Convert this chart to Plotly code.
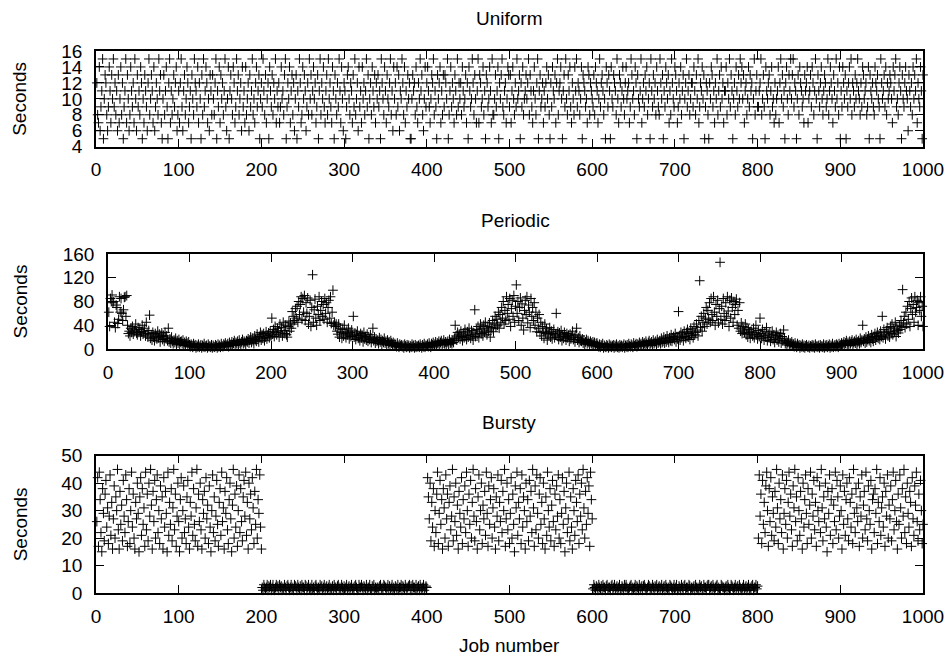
import plotly.graph_objects as go

# ---------------- data ----------------
uniform_seconds = [
    12,8,7,14,6,9,11,15,5,10,13,12,8,6,9,14,11,7,13,10,
    15,9,12,8,11,6,13,7,10,14,8,12,5,9,11,15,7,13,10,6,
    8,14,11,9,12,7,15,10,6,13,9,11,8,14,12,5,10,7,13,11,
    9,6,12,15,8,10,13,11,7,14,6,9,12,10,8,15,11,13,7,5,
    10,13,8,11,14,9,5,12,15,7,11,8,10,13,9,12,14,6,8,11,
    7,12,15,9,6,11,13,8,10,14,12,7,9,11,5,13,10,8,15,12,
    11,9,14,7,12,10,5,13,8,15,9,11,14,12,7,10,6,13,11,8,
    13,10,8,12,15,5,11,9,14,7,13,10,12,8,11,15,9,6,10,14,
    5,11,13,10,8,14,12,7,9,15,11,13,8,10,12,6,14,9,11,7,
    14,8,10,12,6,13,9,11,15,8,10,7,12,14,9,11,13,5,10,12,
    9,15,11,8,13,7,10,12,5,14,11,9,13,8,12,10,15,7,11,9,
    12,7,9,14,10,11,8,13,15,5,9,12,10,14,7,11,13,8,12,6,
    10,13,5,11,9,15,12,7,8,14,10,13,11,6,9,12,8,15,10,13,
    8,11,14,10,12,7,9,13,5,11,15,8,12,10,14,9,7,11,13,8,
    15,10,12,9,7,14,11,5,13,10,8,12,9,15,11,7,14,10,6,12,
    11,5,9,13,14,10,8,12,11,7,13,9,15,8,10,12,6,14,9,11,
    7,14,10,12,8,11,15,9,13,5,10,12,8,14,11,9,13,7,12,10,
    13,9,11,5,15,12,10,8,14,11,7,13,10,9,12,15,8,11,6,14,
    10,12,8,14,9,13,6,11,10,15,12,8,14,7,11,9,13,10,12,5,
    5,10,13,11,12,8,14,9,7,12,10,15,11,13,8,6,10,14,9,12,
    14,11,9,7,10,13,12,15,8,11,9,5,13,10,12,14,7,11,8,13,
    9,13,12,10,15,5,8,11,14,9,12,10,7,13,11,8,15,9,12,10,
    12,8,14,11,9,10,13,7,12,5,14,11,9,10,15,12,8,13,10,7,
    11,15,7,13,12,9,10,14,8,11,5,13,12,9,10,14,11,7,15,8,
    8,10,13,9,11,14,5,12,10,13,15,9,8,11,12,7,10,14,13,9,
    13,7,11,14,10,8,12,9,15,10,11,13,5,12,9,14,8,10,11,13,
    10,12,15,8,13,11,9,7,11,14,10,8,12,15,5,11,13,9,10,12,
    7,11,9,12,14,10,13,8,5,12,9,14,11,10,13,7,12,15,8,11,
    12,14,10,5,11,13,9,15,10,8,13,11,14,9,7,12,10,8,14,11,
    15,9,12,11,8,10,14,5,13,12,11,9,10,7,14,13,8,12,11,10,
    9,13,8,14,12,11,7,10,15,9,12,13,11,8,10,5,14,12,9,13,
    11,5,14,10,9,13,12,11,8,15,10,7,13,12,9,11,14,10,8,12,
    14,10,11,12,7,9,15,13,10,11,8,14,12,5,13,10,9,11,15,7,
    10,12,9,13,11,14,8,10,12,5,15,11,9,13,10,12,8,14,11,9,
    8,15,12,10,13,5,11,9,14,12,10,13,7,11,8,15,12,10,9,14,
    13,11,7,9,12,10,14,8,11,13,5,10,12,15,9,11,13,8,10,12,
    12,9,14,11,8,13,10,15,7,9,12,11,14,10,13,5,9,12,11,8,
    5,12,10,14,13,9,11,7,12,10,15,8,11,13,9,14,10,12,7,11,
    11,14,8,12,10,15,9,13,11,5,10,12,8,14,11,9,13,10,15,12,
    14,10,13,7,11,12,8,10,14,9,13,11,12,5,10,15,8,11,13,9,
    9,11,12,15,8,10,13,9,5,14,11,10,12,13,8,11,14,9,10,7,
    12,8,10,11,14,7,12,15,10,13,9,11,5,12,14,10,8,13,11,15,
    10,13,15,9,12,11,5,10,13,8,14,12,11,9,10,7,13,11,12,14,
    7,10,11,13,9,14,12,8,11,15,10,5,13,11,9,12,14,10,8,11,
    13,12,9,10,15,8,11,14,12,10,7,13,11,9,15,10,12,8,14,5,
    11,9,14,12,10,13,5,11,9,12,14,10,15,8,12,11,9,13,10,12,
    15,11,10,8,12,9,14,13,10,11,12,8,9,14,5,13,11,10,12,9,
    8,14,12,11,13,10,9,5,15,12,10,11,13,9,14,8,12,10,11,13,
    12,10,7,14,11,13,15,9,10,8,12,14,11,5,13,10,9,12,14,11,
    10,6,13,11,9,12,8,14,10,13,11,15,7,12,10,9,14,11,5,13,
]

periodic_seconds = [
    62,38,85,80,91,78,80,45,36,74, 70,43,50,88,62,85,60,48,66,87,
    88,55,90,40,26,30,22,35,28,38, 25,32,30,42,27,24,36,28,33,22,
    29,40,25,30,35,22,45,26,20,31, 57,18,24,15,28,20,14,26,22,17,
    30,19,25,12,21,27,16,23,13,28, 18,22,14,35,12,17,10,20,13,9,
    15,11,18,8,14,10,16,7,12,13, 9,15,6,11,8,13,10,5,12,7,
    4,8,6,3,9,5,7,2,6,4, 8,3,5,7,2,6,4,9,3,5,
    6,2,8,4,5,3,7,2,6,4, 3,7,5,2,8,4,6,3,9,5,
    4,8,6,10,5,7,9,4,11,6, 8,12,7,10,14,6,11,9,13,8,
    15,10,7,12,16,9,13,11,8,14, 12,17,10,15,20,11,18,14,9,22,
    16,13,25,19,12,21,28,15,24,18, 26,14,20,29,17,23,27,19,30,22,
    52,25,33,21,38,28,24,35,30,20, 42,27,36,22,45,31,26,40,24,20,
    38,47,30,44,35,63,42,55,48,68, 52,72,45,80,58,75,88,50,85,62,
    90,48,78,60,86,42,55,82,38,70, 125,45,66,84,52,40,72,58,88,48,
    65,80,55,75,50,85,60,78,45,70, 82,52,88,43,62,99,40,45,38,42,
    30,25,42,20,35,28,18,33,22,40, 26,19,30,24,35,17,28,21,32,23,
    55,20,27,16,24,30,18,22,14,26, 19,23,12,28,17,21,15,25,13,20,
    16,24,11,18,35,14,20,10,17,13, 15,9,19,12,16,8,14,11,18,10,
    13,7,15,9,12,6,14,10,8,11, 5,9,7,4,10,6,3,8,5,7,
    4,6,2,8,5,3,7,4,6,2, 5,3,8,4,6,2,7,3,5,4,
    6,3,8,5,2,7,4,9,3,6, 5,8,4,10,6,3,9,7,11,5,
    8,12,6,10,9,13,7,11,14,8, 10,15,9,12,7,11,13,8,16,10,
    12,9,14,11,18,40,22,15,28,20, 25,17,30,21,14,27,19,33,23,16,
    29,20,35,24,18,31,22,15,27,66, 21,33,25,38,19,30,42,26,35,22,
    40,28,45,32,24,38,30,44,20,36, 34,48,29,42,55,37,50,40,62,35,
    58,45,70,52,80,42,65,48,88,60, 75,50,85,38,68,82,55,90,45,72,
    108,60,80,48,70,86,40,76,52,32, 65,82,58,88,44,74,62,36,85,55,
    70,48,78,40,62,29,52,35,58,28, 45,22,38,30,18,42,26,34,15,28,
    24,36,20,30,17,26,33,19,25,60, 22,29,16,27,20,31,14,24,18,28,
    21,15,26,19,23,13,25,17,22,30, 16,20,12,24,35,15,19,11,22,14,
    13,17,10,15,8,12,16,9,14,11, 7,13,10,6,12,8,11,5,9,10,
    6,4,8,3,7,5,9,2,6,4, 3,7,5,2,8,4,6,3,5,7,
    2,6,4,8,3,5,2,7,4,6, 3,5,8,2,6,4,7,3,9,5,
    4,8,6,3,10,5,7,9,4,8, 6,11,7,9,5,12,8,10,6,13,
    9,7,11,14,8,10,12,6,15,9, 11,13,8,16,10,12,14,9,18,11,
    13,20,10,17,12,22,15,11,19,14, 24,13,18,21,16,26,12,20,17,63,
    22,15,28,19,25,14,30,21,18,27, 33,20,26,16,35,23,29,19,38,24,
    28,42,32,22,48,115,36,55,30,45, 60,38,52,70,42,65,50,78,45,85,
    58,48,88,62,40,75,55,82,44,68, 146,50,72,42,85,60,48,78,55,88,
    64,38,82,52,86,70,45,80,58,75, 84,40,65,35,78,30,44,26,38,32,
    28,42,24,36,20,33,27,18,30,25, 22,35,19,28,40,24,17,31,21,52,
    26,18,33,23,15,29,20,36,14,25, 19,27,13,22,30,16,24,11,20,28,
    15,23,12,18,26,10,21,14,32,17, 9,13,7,11,15,6,10,8,12,5,
    8,4,10,6,3,9,5,7,2,6, 4,8,3,6,2,5,7,4,3,6,
    2,5,4,7,3,6,2,8,4,5, 3,6,2,7,4,5,3,8,2,6,
    4,7,3,5,8,2,6,4,9,3, 5,7,4,8,6,3,9,5,7,10,
    6,9,12,7,10,14,8,11,6,13, 9,12,15,8,11,13,10,16,7,12,
    14,9,18,11,15,40,13,17,10,20, 12,16,22,14,19,11,24,17,13,21,
    26,15,20,28,18,23,16,30,21,55, 19,33,25,17,28,36,22,30,20,38,
    26,42,24,34,29,45,21,37,31,27, 40,33,48,38,100,44,55,36,62,42,
    72,50,80,38,68,86,58,75,45,88, 62,70,82,40,78,65,88,55,72,38,
]

bursty_seconds = [
    # jobs 1-200
    26,42,17,44,34,22,15,38,29,19, 36,41,24,31,18,28,43,21,33,16,
    27,39,20,35,30,45,23,16,37,25, 32,19,41,28,22,43,34,17,26,38,
    18,30,44,24,36,20,16,33,27,40, 29,15,35,42,21,38,25,31,17,44,
    23,36,19,40,28,45,32,16,37,26, 41,20,34,43,22,30,18,39,27,35,
    16,42,24,37,29,15,44,21,33,25, 38,19,31,45,23,36,17,28,40,26,
    15,34,42,20,30,39,22,27,18,35, 41,24,16,33,28,44,21,38,25,19,
    31,45,17,36,26,40,23,16,34,29, 37,20,42,27,32,18,39,24,15,30,
    43,22,35,19,28,41,25,17,33,38, 21,44,26,31,16,37,29,42,23,18,
    34,40,27,15,32,45,20,36,24,39, 17,30,43,22,38,26,19,35,41,28,
    44,21,33,16,40,27,36,23,42,31, 18,37,25,45,20,34,29,43,24,16,
    # jobs 201-400
    2,1,3,2,1.5,2,3,1,2.5,2,3,1,2,3,1.5,1,2,3,2,2.5,
    1,3,2,2.5,1,2,1.5,3,2,1,2.5,3,2,1,2,3,1.5,2,1,3,
    2.5,2,1,3,2,1.5,2.5,1,3,2,2,1,3,2.5,1,2,3,1.5,2,1,
    3,1.5,2,1,2.5,3,2,1,2,1.5,3,2,2.5,1,2,3,1,2,2.5,1.5,
    2,3,1,2,1.5,2.5,1,3,2,2,1,2.5,3,1.5,2,1,3,2,1,2.5,
    1.5,2,3,1,2,2.5,1,2,3,1.5,2,1,2.5,3,2,1,1.5,3,2,2,
    3,2,1,2.5,2,1.5,3,1,2,2,3,1.5,1,2.5,2,3,1,2,1.5,2,
    2,1,2.5,3,1.5,2,1,3,2.5,2,1,2,3,1,2.5,1.5,2,3,1,2,
    1,2.5,2,1.5,3,1,2,2,3,1,2.5,2,1.5,3,2,1,2,2.5,3,1,
    2.5,1,3,2,2,1.5,3,1,2,2.5,1,3,2,1.5,2,3,1,2,2.5,2,
    # jobs 401-600
    42,35,27,40,19,33,24,38,17,30, 22,36,44,18,29,41,25,34,16,38,
    31,20,43,27,36,17,33,39,23,28, 45,19,35,26,40,21,32,16,37,29,
    24,42,18,34,27,39,22,44,30,17, 36,25,41,20,33,45,28,19,38,26,
    16,35,43,23,30,40,18,32,27,37, 21,44,29,17,39,25,34,42,20,31,
    38,24,16,35,28,43,19,33,26,41, 22,37,30,45,17,27,40,23,34,18,
    29,42,20,36,25,15,39,31,44,21, 33,27,38,18,43,24,35,30,16,40,
    26,34,19,41,28,37,22,45,31,17, 39,23,43,29,20,36,42,25,33,18,
    40,27,16,35,21,44,30,24,38,19, 32,41,26,17,36,23,39,28,43,20,
    34,18,29,42,25,37,15,31,40,22, 27,44,19,35,24,16,38,30,21,41,
    33,26,43,18,36,28,40,23,45,31, 20,37,25,42,29,39,17,44,34,27,
    # jobs 601-800
    1.5,3,2,1,2.5,2,1,3,2,1.5,2.5,1,3,2,2,1,2.5,3,1.5,2,
    2,1,2.5,3,1,2,3,1.5,2,2.5,1,2,3,1,1.5,2.5,2,1,3,2,
    3,2,1.5,1,2,2.5,3,1,2,1.5,2,3,1,2.5,2,1,3,1.5,2,2.5,
    1,2.5,3,2,1.5,1,2,3,2.5,1,2,1.5,3,2,1,2.5,2,3,1,2,
    2.5,1.5,2,3,1,2,2.5,1,3,2,1.5,2,1,3,2.5,2,1,2,3,1.5,
    2,3,1,1.5,2.5,2,1,3,2,1,2.5,3,1.5,2,2,1,3,2.5,1,2,
    1.5,2,2.5,1,3,2,1.5,2,1,3,2,2.5,1,1.5,3,2,2,1,2.5,3,
    3,1,2,2.5,1.5,3,2,1,2,2.5,3,1,2,1.5,1,3,2.5,2,2,1,
    2,2.5,1,3,2,1,1.5,3,2.5,2,1,2,3,1.5,2,2.5,1,3,2,1.5,
    1,2,3,1.5,2,2.5,1,2,3,1,2,1.5,2.5,3,1,2,2,3,1.5,2.5,
    # jobs 801-1000
    20,43,28,36,18,41,25,33,22,39, 44,30,17,38,26,42,21,35,29,19,
    37,24,45,31,18,40,27,34,22,43, 16,29,38,25,41,20,33,44,28,36,
    23,17,39,31,45,26,35,19,42,30, 21,37,27,16,40,24,34,43,29,18,
    38,25,32,44,20,36,28,41,23,33, 17,42,30,26,39,22,45,31,19,35,
    27,40,24,15,37,29,43,21,34,38, 18,32,26,44,23,41,35,20,28,39,
    30,16,43,25,37,21,34,40,27,19, 42,33,24,36,18,45,29,22,38,31,
    26,40,17,35,28,43,20,32,37,23, 44,27,19,39,30,25,41,16,34,36,
    22,38,29,45,18,33,26,42,21,31, 35,24,40,17,37,28,43,20,32,27,
    39,19,34,44,23,30,41,26,16,36, 25,43,31,20,38,28,45,22,35,18,
    40,29,24,37,33,17,42,27,21,39, 32,44,26,19,36,23,41,30,18,25,
]

panel_titles = ["Uniform", "Periodic", "Bursty"]
y_tick_values = [
    [4, 6, 8, 10, 12, 14, 16],
    [0, 40, 80, 120, 160],
    [0, 10, 20, 30, 40, 50],
]
y_ranges = [[4, 16], [0, 160], [0, 50]]
x_tick_values = [0, 100, 200, 300, 400, 500, 600, 700, 800, 900, 1000]
x_label = "Job number"
y_label = "Seconds"

# ---------------- layout geometry (pixels of a 951x657 canvas) ----------------
W, H = 951, 657
panel_x_px = [(96, 923), (108, 923), (96, 923)]     # (left, right)
panel_y_px = [(51, 146.7), (254, 349), (455.7, 593)]  # (top, bottom)
title_px = [(509, 18), (515, 220), (509, 422)]

FONT = "Liberation Sans, Arial, Helvetica, sans-serif"
FS = 19

def fx(px):
    return px / W

def fy(px):
    return 1 - px / H

fig = go.Figure()
series = [uniform_seconds, periodic_seconds, bursty_seconds]
for i, ys in enumerate(series):
    jobs = list(range(1, len(ys) + 1))
    fig.add_trace(go.Scatter(
        x=jobs, y=ys, mode="markers",
        marker=dict(symbol="cross-thin", size=7, color="black",
                    line=dict(width=1, color="black")),
        xaxis="x" if i == 0 else f"x{i+1}",
        yaxis="y" if i == 0 else f"y{i+1}",
        showlegend=False, hoverinfo="skip", cliponaxis=False,
    ))

axis_common = dict(
    showgrid=False, zeroline=False, showline=True, linecolor="black",
    linewidth=1.5, mirror="ticks", ticks="inside", ticklen=8,
    tickwidth=1, tickcolor="black", automargin=False,
    tickfont=dict(family=FONT, size=FS, color="black"),
)

layout = dict(
    width=W, height=H, autosize=False,
    margin=dict(l=0, r=0, t=0, b=0, pad=0, autoexpand=False),
    paper_bgcolor="white", plot_bgcolor="white",
    font=dict(family=FONT, size=FS, color="black"),
)
annotations = []
for i in range(3):
    left, right = panel_x_px[i]
    top, bottom = panel_y_px[i]
    xname = "xaxis" if i == 0 else f"xaxis{i+1}"
    yname = "yaxis" if i == 0 else f"yaxis{i+1}"
    layout[xname] = dict(
        axis_common, domain=[fx(left), fx(right)], range=[0, 1000],
        tickvals=x_tick_values, ticklabelstandoff=5,
        anchor="y" if i == 0 else f"y{i+1}",
    )
    layout[yname] = dict(
        axis_common, domain=[fy(bottom), fy(top)], range=y_ranges[i],
        tickvals=y_tick_values[i], ticklabelstandoff=8,
        anchor="x" if i == 0 else f"x{i+1}",
    )
    tx, ty = title_px[i]
    annotations.append(dict(
        text=panel_titles[i], x=fx(tx), y=fy(ty), xref="paper", yref="paper",
        xanchor="center", yanchor="middle", showarrow=False,
        font=dict(family=FONT, size=FS, color="black"),
    ))
    annotations.append(dict(
        text=y_label, x=fx(20), y=fy((top + bottom) / 2), xref="paper",
        yref="paper", xanchor="center", yanchor="middle", showarrow=False,
        textangle=-90, font=dict(family=FONT, size=FS, color="black"),
    ))
annotations.append(dict(
    text=x_label, x=fx(509), y=fy(645), xref="paper", yref="paper",
    xanchor="center", yanchor="middle", showarrow=False,
    font=dict(family=FONT, size=FS, color="black"),
))
layout["annotations"] = annotations

fig.update_layout(**layout)
fig.write_html("out.html")
